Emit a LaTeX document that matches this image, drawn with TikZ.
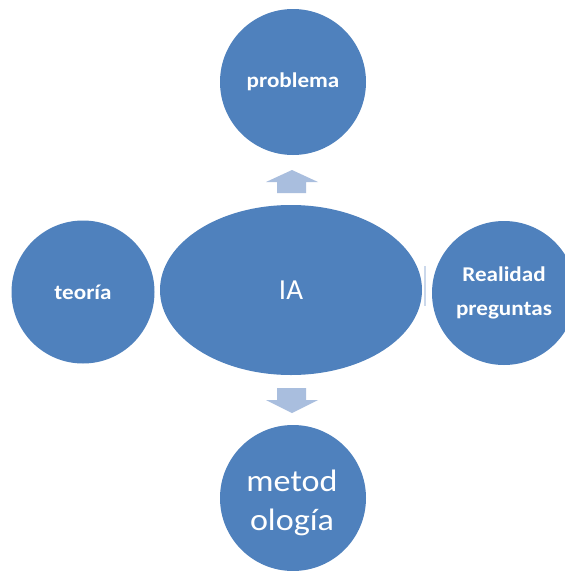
\documentclass[tikz,border=0pt]{standalone}
\usepackage{fontspec}
\setmainfont{Carlito}
\newfontfamily\wfont[FakeStretch=1.1]{Carlito}
\usetikzlibrary{shapes.geometric}
\definecolor{ofblue}{HTML}{4F81BD}
\definecolor{arrblue}{HTML}{A9BEDE}
\begin{document}
\begin{tikzpicture}[x=1pt,y=-1pt,
  bubble/.style={circle,fill=ofblue,draw=none,text=white,inner sep=0pt,minimum size=146pt,align=center},
  smalltxt/.style={font=\wfont\bfseries\fontsize{21}{34}\selectfont},
  arrowshape/.style={fill=arrblue,draw=none}]
\useasboundingbox (0,0) rectangle (565,571);
\clip (0,0) rectangle (565,571);
\fill[white] (0,0) rectangle (565,571);
% faint connector
\fill[arrblue!60] (424,266) rectangle (426,306);
\node[bubble,smalltxt] (prob) at (293,82) {problema};
\node[ellipse,fill=ofblue,text=white,inner sep=0pt,minimum width=262pt,minimum height=170pt,font=\fontsize{29}{34}\selectfont] (ia) at (291,290) {IA};
\node[bubble,smalltxt,minimum size=143pt] (teo) at (83,292) {teoría};
\node[bubble,smalltxt,minimum size=144pt] (real) at (504,293) {Realidad\\preguntas};
\node[bubble,font=\wfont\fontsize{31}{39}\selectfont] (met) at (293,498) {};
\node[text=white,align=center,font=\wfont\fontsize{31}{39}\selectfont] (mettxt) at (292,503) {metod\\ología};
% arrows
\path[arrowshape] (292,170) -- (318,182) -- (306,182) -- (306,193) -- (277,193) -- (277,182) -- (266,182) -- cycle;
\path[arrowshape] (277,388) -- (306,388) -- (306,400) -- (318,400) -- (292,413) -- (266,400) -- (277,400) -- cycle;
\end{tikzpicture}
\end{document}
